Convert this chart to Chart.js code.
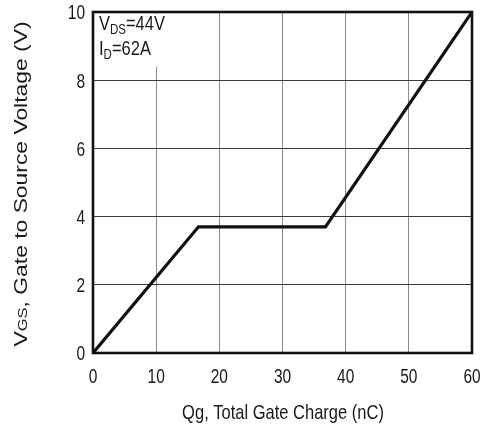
<!DOCTYPE html>
<html>
<head>
<meta charset="utf-8">
<script src="https://cdn.jsdelivr.net/npm/chart.js@4.4.1/dist/chart.umd.min.js"></script>
<style>
  html, body { margin: 0; padding: 0; background: #fff; }
  #wrap { width: 487px; height: 443px; }
</style>
</head>
<body>
<div id="wrap"><canvas id="myChart" width="487" height="443"></canvas></div>
<script>
// gate charge curve
let qg = [0, 16.7, 36.8, 60];
let vgs = [0, 3.7, 3.7, 10];
let xTicks = [0, 10, 20, 30, 40, 50, 60];
let yTicks = [0, 2, 4, 6, 8, 10];

let points = qg.map((q, i) => ({x: q, y: vgs[i]}));
let FONT = '"Liberation Sans", Arial, sans-serif';
let STRETCH = 1.27; // text in the original is taller than it is wide

// draws a run of [text, size, dy] pieces left to right
function drawRuns(ctx, runs, x, y) {
  runs.forEach(r => {
    ctx.font = r[1] + 'px ' + FONT;
    ctx.fillText(r[0], x, y + (r[2] || 0));
    x += ctx.measureText(r[0]).width;
  });
  return x;
}
function runsWidth(ctx, runs) {
  let w = 0;
  runs.forEach(r => { ctx.font = r[1] + 'px ' + FONT; w += ctx.measureText(r[0]).width; });
  return w;
}
// text scaled up vertically around its anchor
function tallText(ctx, fn, x, y) {
  ctx.save();
  ctx.translate(x, y);
  ctx.scale(1, STRETCH);
  fn();
  ctx.restore();
}

let textPlugin = {
  id: 'texts',
  afterDraw(chart) {
    let ctx = chart.ctx;
    let a = chart.chartArea;
    let xs = chart.scales.x, ys = chart.scales.y;
    ctx.save();
    // frame
    ctx.strokeStyle = '#111';
    ctx.lineWidth = 2.6;
    ctx.strokeRect(a.left, a.top, a.right - a.left, a.bottom - a.top);

    // note box
    ctx.fillStyle = '#fff';
    ctx.fillRect(a.left + 2, a.top + 2, 76, 53);
    ctx.fillStyle = '#1a1a1a';
    ctx.textBaseline = 'alphabetic';
    ctx.textAlign = 'left';
    tallText(ctx, () => drawRuns(ctx, [['V', 16.5], ['DS', 11.5, 3.5], ['=44V', 16.5]], 0, 0), a.left + 6, a.top + 18);
    tallText(ctx, () => drawRuns(ctx, [['I', 16.5], ['D', 11.5, 3.5], ['=62A', 16.5]], 0, 0), a.left + 6, a.top + 43);

    // tick labels
    ctx.font = '15.5px ' + FONT;
    ctx.textAlign = 'center';
    ctx.textBaseline = 'middle';
    xTicks.forEach(v => tallText(ctx, () => ctx.fillText(String(v), 0, 0), xs.getPixelForValue(v), a.bottom + 25));
    ctx.textAlign = 'right';
    yTicks.forEach(v => tallText(ctx, () => ctx.fillText(String(v), 0, 0), a.left - 8, ys.getPixelForValue(v) + 2));

    // axis titles
    ctx.textAlign = 'left';
    ctx.textBaseline = 'alphabetic';
    let xt = [['Qg, Total Gate Charge (nC)', 16.5]];
    let xw = runsWidth(ctx, xt);
    tallText(ctx, () => drawRuns(ctx, xt, -xw / 2, 0), 283, 419);

    let yt = [['V', 18], ['GS', 13], [', Gate to Source Voltage (V)', 18]];
    let yw = runsWidth(ctx, yt);
    ctx.translate(27, 184);
    ctx.rotate(-Math.PI / 2);
    ctx.scale(STRETCH, 1);
    drawRuns(ctx, yt, -yw / 2, 0);
    ctx.restore();
  }
};

let myChart = document.getElementById('myChart').getContext('2d');
let chart = new Chart(myChart, {
  type: 'scatter',
  data: {
    datasets: [{
      data: points,
      showLine: true,
      borderColor: '#111',
      borderWidth: 3.2,
      pointRadius: 0,
      fill: false
    }]
  },
  options: {
    responsive: false,
    animation: false,
    layout: { padding: { left: 93, right: 15, top: 12, bottom: 90 } },
    plugins: {
      legend: { display: false },
      tooltip: { enabled: false }
    },
    scales: {
      x: {
        type: 'linear',
        min: 0, max: 60,
        afterBuildTicks: (s) => { s.ticks = xTicks.map(v => ({value: v})); },
        ticks: { display: false },
        grid: { color: '#8a8a8a', lineWidth: 1, drawTicks: false },
        border: { display: false }
      },
      y: {
        type: 'linear',
        min: 0, max: 10,
        afterBuildTicks: (s) => { s.ticks = yTicks.map(v => ({value: v})); },
        ticks: { display: false },
        grid: { color: '#3a3a3a', lineWidth: 1, drawTicks: false },
        border: { display: false }
      }
    }
  },
  plugins: [textPlugin]
});
</script>
</body>
</html>
